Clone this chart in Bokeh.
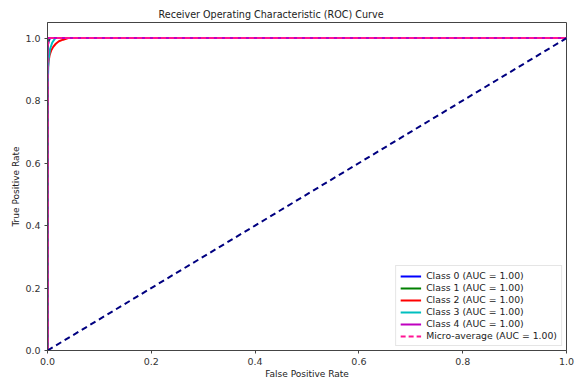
from bokeh.plotting import figure
from bokeh.models import Range1d, FixedTicker, PrintfTickFormatter, Legend, LegendItem
from bokeh.embed import file_html
from bokeh.resources import INLINE

# ROC curve points per class (false positive rate, true positive rate)
class_names = ["Class 0", "Class 1", "Class 2", "Class 3", "Class 4"]
class_auc = [1.00, 1.00, 1.00, 1.00, 1.00]
class_colors = ["#0000ff", "#008000", "#ff0000", "#00bfbf", "#bf00bf"]

fpr_class0 = [0.0, 0.0, 0.002, 0.005, 1.0]
tpr_class0 = [0.0, 0.97, 0.99, 1.0, 1.0]
fpr_class1 = [0.0, 0.0, 0.003, 1.0]
tpr_class1 = [0.0, 0.98, 1.0, 1.0]
fpr_class2 = [0.0, 0.0, 0.002, 0.004, 0.007, 0.011, 0.016, 0.022, 0.03, 0.04, 1.0]
tpr_class2 = [0.0, 0.89, 0.925, 0.945, 0.96, 0.972, 0.982, 0.99, 0.995, 1.0, 1.0]
fpr_class3 = [0.0, 0.0, 0.002, 0.005, 0.009, 0.015, 1.0]
tpr_class3 = [0.0, 0.83, 0.93, 0.965, 0.985, 1.0, 1.0]
fpr_class4 = [0.0, 0.0, 0.001, 1.0]
tpr_class4 = [0.0, 0.995, 1.0, 1.0]

fpr_micro = [0.0, 0.0, 0.004, 1.0]
tpr_micro = [0.0, 0.975, 1.0, 1.0]
micro_auc = 1.00

chance_x = [0.0, 1.0]
chance_y = [0.0, 1.0]

x_ticks = [0.0, 0.2, 0.4, 0.6, 0.8, 1.0]
y_ticks = [0.0, 0.2, 0.4, 0.6, 0.8, 1.0]

fprs = [fpr_class0, fpr_class1, fpr_class2, fpr_class3, fpr_class4]
tprs = [tpr_class0, tpr_class1, tpr_class2, tpr_class3, tpr_class4]

FONT = "DejaVu Sans"

p = figure(width=578, height=381, output_backend="svg", toolbar_location=None,
           x_range=Range1d(0, 1), y_range=Range1d(0, 1.05),
           min_border_left=47, min_border_right=12, min_border_top=22,
           min_border_bottom=30)

p.title.text = "Receiver Operating Characteristic (ROC) Curve"
p.title.align = "left"
p.title.offset = 111
p.title.standoff = 6
p.title.text_font = FONT
p.title.text_font_size = "9.6px"
p.title.text_font_style = "normal"
p.title.text_color = "#222222"

p.xgrid.visible = False
p.ygrid.visible = False
p.outline_line_color = "#444444"
p.outline_line_width = 1

for ax, lab, ticks in ((p.xaxis, "False Positive Rate", x_ticks),
                       (p.yaxis, "True Positive Rate", y_ticks)):
    ax.axis_label = lab
    ax.axis_label_text_font = FONT
    ax.axis_label_text_font_size = "9px"
    ax.axis_label_text_font_style = "normal"
    ax.axis_label_text_color = "#222222"
    ax.axis_label_standoff = 1
    ax.ticker = FixedTicker(ticks=ticks)
    ax.formatter = PrintfTickFormatter(format="%.1f")
    ax.major_label_text_font = FONT
    ax.major_label_text_font_size = "9.5px"
    ax.major_label_text_color = "#333333"
    ax.major_label_standoff = 4
    ax.minor_tick_line_color = None
    ax.major_tick_in = 0
    ax.major_tick_out = 3
    ax.axis_line_color = "#444444"
    ax.major_tick_line_color = "#444444"

items = []
for name, auc, col, fx, ty in zip(class_names, class_auc, class_colors, fprs, tprs):
    r = p.line(fx, ty, line_color=col, line_width=2)
    items.append(LegendItem(label=f"{name} (AUC = {auc:.2f})", renderers=[r]))

r_micro = p.line(fpr_micro, tpr_micro, line_color="deeppink", line_width=2, line_dash="5 3")
items.append(LegendItem(label=f"Micro-average (AUC = {micro_auc:.2f})", renderers=[r_micro]))

p.line(chance_x, chance_y, line_color="navy", line_width=2, line_dash="6 4")

legend = Legend(items=items, location="bottom_right")
legend.label_text_font = FONT
legend.label_text_font_size = "9.3px"
legend.label_text_color = "#222222"
legend.glyph_width = 21
legend.glyph_height = 10
legend.label_height = 10
legend.label_standoff = 5
legend.spacing = 1
legend.padding = 4
legend.margin = 4
legend.border_line_color = "#cccccc"
legend.background_fill_alpha = 0.9
p.add_layout(legend)

open("out.html", "w").write(file_html(p, INLINE))
